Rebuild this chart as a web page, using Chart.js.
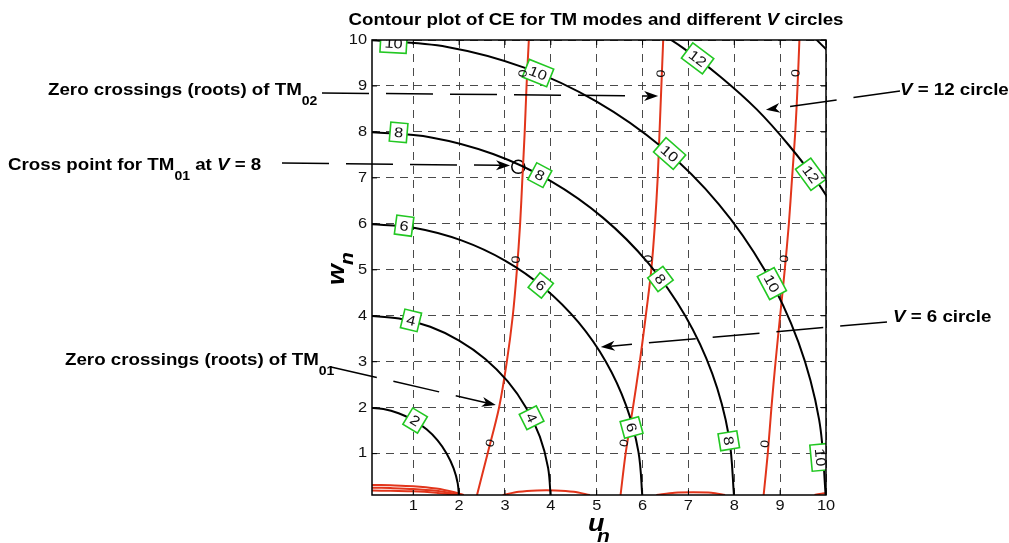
<!DOCTYPE html>
<html>
<head>
<meta charset="utf-8">
<script src="https://cdn.jsdelivr.net/npm/chart.js@4.4.0/dist/chart.umd.min.js"></script>
<style>
  html, body { margin: 0; padding: 0; background: #fff; }
  #wrap { width: 1009px; height: 543px; }
</style>
</head>
<body>
<div id="wrap"><canvas id="chart" width="1009" height="543"></canvas></div>
<script>
// ---- data ----
const tickVals = [1, 2, 3, 4, 5, 6, 7, 8, 9, 10];

// V circles (u_n, w_n points along each quarter circle)
const arc2U = [2.00, 1.97, 1.88, 1.73, 1.53, 1.29, 1.00, 0.68, 0.35, 0.00];
const arc2W = [0.00, 0.35, 0.68, 1.00, 1.29, 1.53, 1.73, 1.88, 1.97, 2.00];
const arc4U = [4.00, 3.94, 3.76, 3.46, 3.06, 2.57, 2.00, 1.37, 0.69, 0.00];
const arc4W = [0.00, 0.69, 1.37, 2.00, 2.57, 3.06, 3.46, 3.76, 3.94, 4.00];
const arc6U = [6.00, 5.91, 5.64, 5.20, 4.60, 3.86, 3.00, 2.05, 1.04, 0.00];
const arc6W = [0.00, 1.04, 2.05, 3.00, 3.86, 4.60, 5.20, 5.64, 5.91, 6.00];
const arc8U = [8.00, 7.88, 7.52, 6.93, 6.13, 5.14, 4.00, 2.74, 1.39, 0.00];
const arc8W = [0.00, 1.39, 2.74, 4.00, 5.14, 6.13, 6.93, 7.52, 7.88, 8.00];
const arc10U = [10.00, 9.85, 9.40, 8.66, 7.66, 6.43, 5.00, 3.42, 1.74, 0.00];
const arc10W = [0.00, 1.74, 3.42, 5.00, 6.43, 7.66, 8.66, 9.40, 9.85, 10.00];
const arc12U = [10.39, 9.83, 9.19, 8.49, 7.71, 6.88, 6.00];
const arc12W = [6.00, 6.88, 7.71, 8.49, 9.19, 9.83, 10.39];
const arc14U = [10.20, 9.90, 9.60];
const arc14W = [9.60, 9.90, 10.20];

// zero crossings of CE (red contours)
const rootW = [0.1, 1, 2, 3, 4, 5, 6, 7, 8, 9, 10];
const root1U = [2.39, 2.62, 2.87, 3.04, 3.17, 3.26, 3.33, 3.38, 3.43, 3.47, 3.52];
const root2U = [5.52, 5.63, 5.79, 5.94, 6.07, 6.19, 6.27, 6.33, 6.37, 6.41, 6.45];
const root3U = [8.64, 8.73, 8.81, 8.90, 9.00, 9.10, 9.19, 9.26, 9.33, 9.38, 9.42];

// small zero contours hugging the u axis
const lowA1U = [0.1, 0.5, 1.0, 1.5, 1.9, 2.1];
const lowA1W = [0.32, 0.31, 0.29, 0.24, 0.16, 0.1];
const lowA2W = [0.26, 0.25, 0.23, 0.19, 0.13, 0.1];
const lowA3W = [0.20, 0.19, 0.18, 0.15, 0.11, 0.1];
const lowBU = [2.95, 3.3, 3.7, 4.1, 4.5, 4.85];
const lowBW = [0.1, 0.17, 0.2, 0.2, 0.17, 0.1];
const lowCU = [6.3, 6.7, 7.1, 7.5, 7.8];
const lowCW = [0.1, 0.15, 0.16, 0.15, 0.1];
const lowDU = [9.75, 9.9, 10.0];
const lowDW = [0.1, 0.13, 0.14];

// TM01 cross point at V = 8
const crossU = [3.29];
const crossW = [7.24];

// contour labels on the V circles
const vLabelU = [0.57, 0.68, 0.80, 0.95, 1.04, 3.72, 3.76, 3.78, 3.58, 7.20, 6.59, 6.39, 5.76, 9.67, 8.82, 7.88, 9.88];
const vLabelW = [9.93, 7.99, 5.96, 3.90, 1.72, 9.28, 7.06, 4.66, 1.78, 9.60, 7.53, 4.80, 1.57, 7.08, 4.70, 1.28, 0.92];
const vLabelText = ['10', '8', '6', '4', '2', '10', '8', '6', '4', '12', '10', '8', '6', '12', '10', '8', '10'];

// "0" labels on the red contours
const zeroU = [3.40, 3.25, 2.69, 6.41, 6.14, 5.61, 9.35, 9.10, 8.68];
const zeroW = [9.27, 5.22, 1.23, 9.27, 5.24, 1.23, 9.28, 5.24, 1.21];
const zeroAngle = [-87, -86, -76, -86, -84, -81, -86, -85, -83];

// callouts: tail in page pixels, tip in data units
const calloutTailX = [322, 282, 331, 900, 887];
const calloutTailY = [93, 163, 367, 91, 322];
const calloutTipU = [6.34, 3.11, 2.80, 8.69, 5.09];
const calloutTipW = [8.78, 7.27, 2.06, 8.48, 3.32];

// ---- helpers ----
const SX = 1.17; // text in the picture is drawn a bit wide
const FONT = '"Liberation Sans", Arial, sans-serif';
const pts = (us, ws) => us.map((u, i) => ({ x: u, y: ws[i] }));

function txt(ctx, s, x, y, font, align) {
  ctx.save();
  ctx.font = font;
  const w = ctx.measureText(s).width * SX;
  const x0 = align === 'center' ? x - w / 2 : align === 'right' ? x - w : x;
  ctx.translate(x0, y);
  ctx.scale(SX, 1);
  ctx.textAlign = 'left';
  ctx.fillText(s, 0, 0);
  ctx.restore();
  return w;
}

// parts: [text, font, dy]
function rich(ctx, parts, x, y, align) {
  let total = 0;
  parts.forEach(p => { ctx.font = p[1]; total += ctx.measureText(p[0]).width * SX; });
  let cx = align === 'center' ? x - total / 2 : x;
  parts.forEach(p => { cx += txt(ctx, p[0], cx, y + (p[2] || 0), p[1], 'left'); });
}

function callout(ctx, x1, y1, x2, y2) {
  const ang = Math.atan2(y2 - y1, x2 - x1);
  const len = Math.hypot(x2 - x1, y2 - y1);
  const head = 14;
  ctx.save();
  ctx.strokeStyle = '#000';
  ctx.fillStyle = '#000';
  ctx.lineWidth = 1.5;
  ctx.translate(x1, y1);
  ctx.rotate(ang);
  ctx.setLineDash([47, 17]);
  ctx.beginPath();
  ctx.moveTo(0, 0);
  ctx.lineTo(len - head + 4, 0);
  ctx.stroke();
  ctx.setLineDash([]);
  ctx.beginPath();
  ctx.moveTo(len, 0);
  ctx.lineTo(len - head, -5);
  ctx.lineTo(len - head + 4, 0);
  ctx.lineTo(len - head, 5);
  ctx.closePath();
  ctx.fill();
  ctx.restore();
}

const contourLabels = {
  id: 'contourLabels',
  afterDatasetsDraw(chart) {
    const { ctx, chartArea: a, scales: { x, y } } = chart;
    ctx.save();
    ctx.beginPath();
    ctx.rect(a.left, a.top, a.right - a.left, a.bottom - a.top);
    ctx.clip();
    // green boxed labels on the circles
    vLabelText.forEach((t, i) => {
      const px = x.getPixelForValue(vLabelU[i]);
      const py = y.getPixelForValue(vLabelW[i]);
      ctx.save();
      ctx.translate(px, py);
      ctx.rotate(Math.atan2(vLabelU[i], vLabelW[i]));
      ctx.font = '14px ' + FONT;
      const w = ctx.measureText(t).width * SX + 8;
      const h = 19;
      ctx.fillStyle = '#fff';
      ctx.fillRect(-w / 2, -h / 2, w, h);
      ctx.strokeStyle = '#22c722';
      ctx.lineWidth = 1.6;
      ctx.strokeRect(-w / 2, -h / 2, w, h);
      ctx.fillStyle = '#111';
      ctx.textBaseline = 'middle';
      txt(ctx, t, 0, 1, '14px ' + FONT, 'center');
      ctx.restore();
    });
    // "0" labels on the red contours
    zeroU.forEach((u, i) => {
      ctx.save();
      ctx.translate(x.getPixelForValue(u), y.getPixelForValue(zeroW[i]));
      ctx.rotate(zeroAngle[i] * Math.PI / 180);
      ctx.fillStyle = '#111';
      ctx.textBaseline = 'middle';
      txt(ctx, '0', 0, 0, '12px ' + FONT, 'center');
      ctx.restore();
    });
    ctx.restore();

    // frame with inward ticks on all four sides
    ctx.save();
    ctx.strokeStyle = '#000';
    ctx.lineWidth = 1.5;
    ctx.strokeRect(a.left, a.top, a.right - a.left, a.bottom - a.top);
    ctx.lineWidth = 1;
    ctx.beginPath();
    tickVals.forEach(v => {
      const px = x.getPixelForValue(v);
      const py = y.getPixelForValue(v);
      ctx.moveTo(px, a.bottom); ctx.lineTo(px, a.bottom - 5);
      ctx.moveTo(px, a.top); ctx.lineTo(px, a.top + 5);
      ctx.moveTo(a.left, py); ctx.lineTo(a.left + 5, py);
      ctx.moveTo(a.right, py); ctx.lineTo(a.right - 5, py);
    });
    ctx.stroke();
    // tick labels
    ctx.fillStyle = '#111';
    tickVals.forEach(v => {
      txt(ctx, String(v), x.getPixelForValue(v), 510, '14px ' + FONT, 'center');
      ctx.textBaseline = 'middle';
      txt(ctx, String(v), 367, y.getPixelForValue(v), '14px ' + FONT, 'right');
      ctx.textBaseline = 'alphabetic';
    });
    ctx.restore();
  },
  afterDraw(chart) {
    const { ctx, scales: { x, y } } = chart;
    const B = 'bold 16px ' + FONT;
    const BI = 'italic bold 16px ' + FONT;
    const SUB = 'bold 12px ' + FONT;
    ctx.save();
    ctx.fillStyle = '#000';
    rich(ctx, [['Contour plot of CE for TM modes and different ', B], ['V', BI], [' circles', B]], 596, 25, 'center');
    rich(ctx, [['Zero crossings (roots) of TM', B], ['02', SUB, 10]], 48, 95, 'left');
    rich(ctx, [['Cross point for TM', B], ['01', SUB, 10], [' at ', B], ['V', BI], [' = 8', B]], 8, 170, 'left');
    rich(ctx, [['Zero crossings (roots) of TM', B], ['01', SUB, 10]], 65, 365, 'left');
    rich(ctx, [['V', BI], [' = 12 circle', B]], 900, 95, 'left');
    rich(ctx, [['V', BI], [' = 6 circle', B]], 893, 322, 'left');

    // axis titles
    txt(ctx, 'u', 588, 531, 'italic bold 23px ' + FONT, 'left');
    txt(ctx, 'n', 597, 542, 'italic bold 18px ' + FONT, 'left');
    ctx.save();
    ctx.translate(344, 285);
    ctx.rotate(-Math.PI / 2);
    txt(ctx, 'w', 0, 0, 'italic bold 23px ' + FONT, 'left');
    txt(ctx, 'n', 20, 9, 'italic bold 18px ' + FONT, 'left');
    ctx.restore();

    // callout arrows
    calloutTailX.forEach((tx, i) => {
      callout(ctx, tx, calloutTailY[i], x.getPixelForValue(calloutTipU[i]), y.getPixelForValue(calloutTipW[i]));
    });
    ctx.restore();
  }
};

const black = (us, ws) => ({ data: pts(us, ws), showLine: true, borderColor: '#000', borderWidth: 2, pointRadius: 0, tension: 0.35, clip: 0 });
const red = (us, ws) => ({ data: pts(us, ws), showLine: true, borderColor: '#e2351b', borderWidth: 2, pointRadius: 0, tension: 0.3, clip: 0 });

new Chart(document.getElementById('chart').getContext('2d'), {
  type: 'scatter',
  data: {
    datasets: [
      black(arc2U, arc2W), black(arc4U, arc4W), black(arc6U, arc6W), black(arc8U, arc8W),
      black(arc10U, arc10W), black(arc12U, arc12W), black(arc14U, arc14W),
      red(root1U, rootW), red(root2U, rootW), red(root3U, rootW),
      red(lowA1U, lowA1W), red(lowA1U, lowA2W), red(lowA1U, lowA3W),
      red(lowBU, lowBW), red(lowCU, lowCW), red(lowDU, lowDW),
      { data: pts(crossU, crossW), showLine: false, pointRadius: 6.5, pointBorderWidth: 1.5,
        pointBorderColor: '#000', pointBackgroundColor: 'rgba(0,0,0,0)', clip: 0 }
    ]
  },
  options: {
    responsive: false,
    animation: false,
    layout: { padding: { top: 40, right: 183, left: 0, bottom: 0 } },
    plugins: { legend: { display: false }, tooltip: { enabled: false } },
    scales: {
      x: {
        type: 'linear', min: 0.1, max: 10,
        afterBuildTicks: s => { s.ticks = tickVals.map(v => ({ value: v })); },
        afterFit: s => { s.height = 48; },
        ticks: { display: false },
        grid: { color: '#4a4a4a', lineWidth: 1, drawTicks: false },
        border: { display: false, dash: [8, 6] }
      },
      y: {
        type: 'linear', min: 0.1, max: 10,
        afterBuildTicks: s => { s.ticks = tickVals.map(v => ({ value: v })); },
        afterFit: s => { s.width = 372; },
        ticks: { display: false },
        grid: { color: '#4a4a4a', lineWidth: 1, drawTicks: false },
        border: { display: false, dash: [8, 6] }
      }
    }
  },
  plugins: [contourLabels]
});
</script>
</body>
</html>
